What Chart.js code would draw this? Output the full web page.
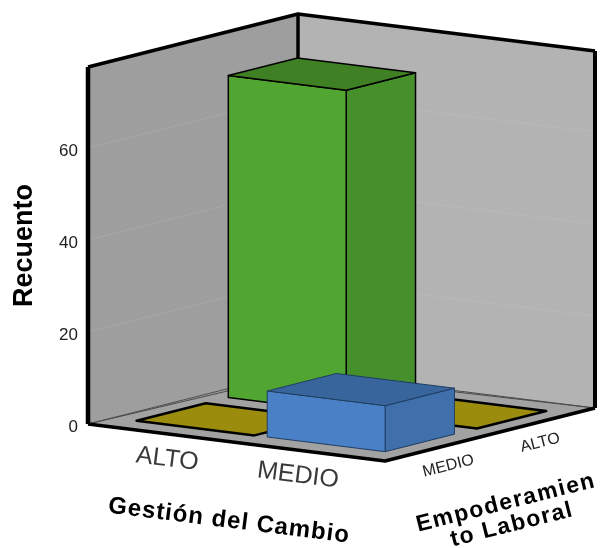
<!DOCTYPE html>
<html>
<head>
<meta charset="utf-8">
<title>Recuento</title>
<script src="https://cdn.jsdelivr.net/npm/chart.js@4"></script>
<style>
  html, body { margin: 0; padding: 0; background: #fff; }
  canvas { display: block; }
</style>
</head>
<body>
<canvas id="chart3d" width="603" height="548"></canvas>
<script>
// Data
const gestionLabels = ['ALTO', 'MEDIO'];
const empoderamientoLabels = ['MEDIO', 'ALTO'];
const countsEmpMedio = [0, 10];
const countsEmpAlto = [70, 0];
const yTicks = [0, 20, 40, 60];

// Projection of the box: floor corner plus two floor directions, height comes from the y scale
const origin = { x: 88, y: 424 };
const xDir = { x: 297, y: 37 };
const zDir = { x: 210, y: -53 };

const FONT = '"Liberation Sans", Arial, sans-serif';
// one colour set per Empoderamiento row
const faces = [
  { front: '#4a80c6', side: '#3f70ac', top: '#38659b', line: '#1f3d63', width: 1 },
  { front: '#50a630', side: '#46902c', top: '#3f8024', line: '#000000', width: 1.5 }
];

function project(x, z, py) {
  return {
    x: origin.x + x * xDir.x + z * zDir.x,
    y: py + x * xDir.y + z * zDir.y
  };
}

function poly(ctx, pts, fill, stroke, width) {
  ctx.beginPath();
  pts.forEach((p, i) => i ? ctx.lineTo(p.x, p.y) : ctx.moveTo(p.x, p.y));
  ctx.closePath();
  if (fill) { ctx.fillStyle = fill; ctx.fill(); }
  if (stroke) {
    ctx.strokeStyle = stroke;
    ctx.lineWidth = width;
    ctx.lineJoin = 'round';
    ctx.stroke();
  }
}

function line(ctx, pts, color, width) {
  ctx.beginPath();
  pts.forEach((p, i) => i ? ctx.lineTo(p.x, p.y) : ctx.moveTo(p.x, p.y));
  ctx.strokeStyle = color;
  ctx.lineWidth = width;
  ctx.lineJoin = 'round';
  ctx.stroke();
}

function label(ctx, text, x, y, angle, font, color, spacing) {
  ctx.save();
  ctx.translate(x, y);
  ctx.rotate(angle);
  ctx.font = font;
  ctx.fillStyle = color;
  ctx.textAlign = 'center';
  ctx.textBaseline = 'middle';
  ctx.letterSpacing = spacing || '0px';
  ctx.fillText(text, 0, 0);
  ctx.restore();
}

// Walls and floor, drawn behind the bars
function drawBox(ctx, yScale) {
  const y0 = yScale.getPixelForValue(0);
  const yTop = yScale.top;
  const left = p => project(0, p, y0), right = p => project(p, 1, y0);

  poly(ctx, [project(0, 0, yTop), project(0, 1, yTop), project(0, 1, y0), project(0, 0, y0)], '#9e9e9e');
  poly(ctx, [project(0, 1, yTop), project(1, 1, yTop), project(1, 1, y0), project(0, 1, y0)], '#b3b3b3');

  yTicks.filter(t => t > 0).forEach(t => {
    const py = yScale.getPixelForValue(t);
    line(ctx, [project(0, 0, py), project(0, 1, py)], '#a8a8a8', 1);
    line(ctx, [project(0, 1, py), project(1, 1, py)], '#b9b9b9', 1);
  });

  poly(ctx, [left(0), left(1), right(1), project(1, 0, y0)], '#a2a2a2');
  line(ctx, [left(0), left(1), right(1)], '#4a4a4a', 1);
  line(ctx, [left(0), project(0.03, 0.965, y0), right(1)], '#4a4a4a', 1);

  line(ctx, [project(0, 0, yTop), project(0, 1, yTop), project(1, 1, yTop)], '#000', 3.5);
  line(ctx, [project(0, 0, yTop), left(0)], '#000', 4.5);
  line(ctx, [project(0, 1, yTop), left(1)], '#000', 3.5);
  line(ctx, [project(1, 1, yTop), right(1)], '#000', 4);
  line(ctx, [left(0), project(1, 0, y0), right(1)], '#000', 3.5);
}

function drawCell(ctx, yScale, i, j, value) {
  const x0 = 0.08 + 0.44 * i, x1 = x0 + 0.397;
  const z0 = 0.118 + 0.437 * j, z1 = z0 + 0.33;
  const base = yScale.getPixelForValue(0);
  const top = yScale.getPixelForValue(value);

  if (value === 0) {
    poly(ctx, [project(x0, z0, base), project(x0, z1, base), project(x1, z1, base), project(x1, z0, base)],
      '#9c8c0e', '#000', 2.5);
    return;
  }
  const c = faces[j];
  poly(ctx, [project(x1, z0, top), project(x1, z1, top), project(x1, z1, base), project(x1, z0, base)], c.side, c.line, c.width);
  poly(ctx, [project(x0, z0, top), project(x1, z0, top), project(x1, z0, base), project(x0, z0, base)], c.front, c.line, c.width);
  poly(ctx, [project(x0, z0, top), project(x0, z1, top), project(x1, z1, top), project(x1, z0, top)], c.top, c.line, c.width);
}

const box3d = {
  id: 'box3d',
  beforeDatasetsDraw(chart) {
    const ctx = chart.ctx, yScale = chart.scales.y;
    const y0 = yScale.getPixelForValue(0);
    const xAngle = Math.atan2(xDir.y, xDir.x), zAngle = Math.atan2(zDir.y, zDir.x);

    ctx.save();
    drawBox(ctx, yScale);

    // back row first so the nearer bars cover it
    const datasets = chart.data.datasets;
    for (let j = datasets.length - 1; j >= 0; j--) {
      datasets[j].data.forEach((v, i) => drawCell(ctx, yScale, i, j, v));
    }

    gestionLabels.forEach((name, i) => {
      const p = project(0.277 + 0.44 * i, 0, y0);
      label(ctx, name, p.x - 3, p.y + 25, xAngle, '25px ' + FONT, '#3a3a3a');
    });
    empoderamientoLabels.forEach((name, j) => {
      const p = project(1, 0.283 + 0.437 * j, y0);
      label(ctx, name, p.x + 4, p.y + 20, zAngle, '16px ' + FONT, '#222');
    });

    label(ctx, 'Gestión del Cambio', 229, 521, xAngle, 'bold 24px ' + FONT, '#000', '1px');
    label(ctx, 'Empoderamien', 506, 503, zAngle, 'bold 23px ' + FONT, '#000', '1.5px');
    label(ctx, 'to Laboral', 512, 525, zAngle, 'bold 23px ' + FONT, '#000', '1.5px');
    ctx.restore();
  }
};

new Chart(document.getElementById('chart3d'), {
  type: 'bar',
  plugins: [box3d],
  data: {
    labels: gestionLabels,
    datasets: [
      { label: empoderamientoLabels[0], data: countsEmpMedio, backgroundColor: 'transparent' },
      { label: empoderamientoLabels[1], data: countsEmpAlto, backgroundColor: 'transparent' }
    ]
  },
  options: {
    responsive: false,
    animation: false,
    devicePixelRatio: 1,
    layout: { padding: { top: 67, bottom: 124, left: 8, right: 8 } },
    plugins: { legend: { display: false }, tooltip: { enabled: false } },
    scales: {
      x: { display: false },
      y: {
        min: 0,
        max: 77.6,
        afterBuildTicks(axis) { axis.ticks = yTicks.map(value => ({ value })); },
        afterFit(axis) { axis.width = 80; },
        grid: { display: false },
        border: { display: false },
        ticks: {
          font: { family: FONT, size: 17 },
          color: '#222',
          padding: 2,
          labelOffset: 3
        },
        title: {
          display: true,
          text: 'Recuento',
          font: { family: FONT, size: 27, weight: 'bold' },
          color: '#000',
          padding: { top: 0, bottom: 0 }
        }
      }
    }
  }
});
</script>
</body>
</html>
